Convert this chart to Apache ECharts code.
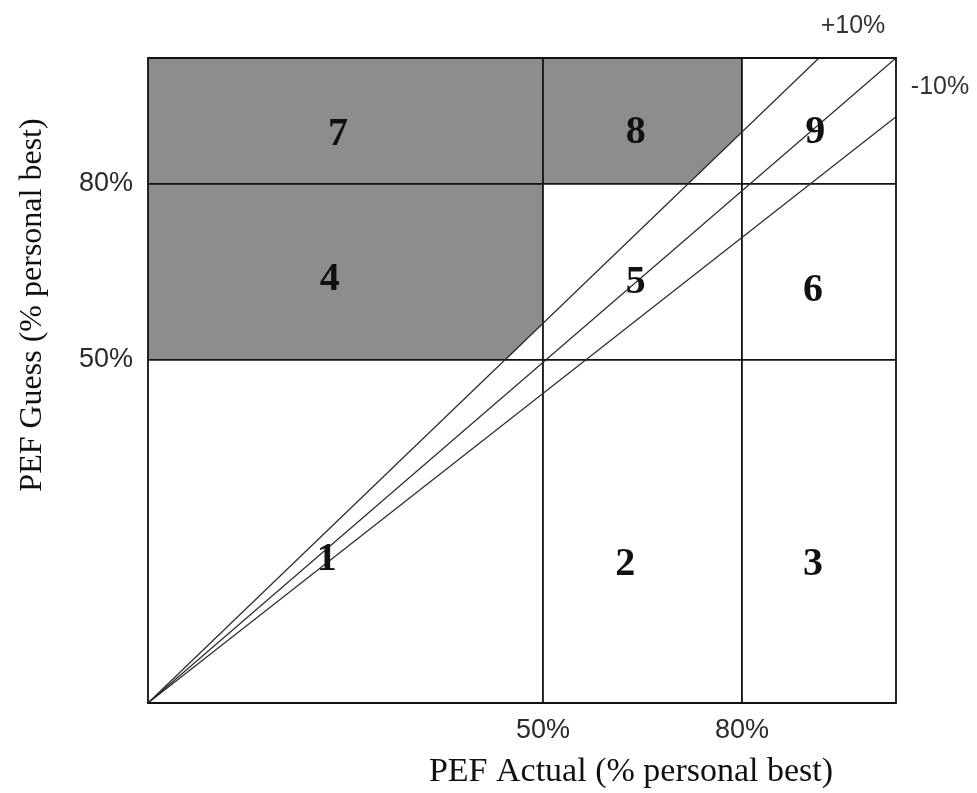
<!DOCTYPE html>
<html>
<head>
<meta charset="utf-8">
<script src="https://cdn.jsdelivr.net/npm/echarts@6/dist/echarts.min.js"></script>
<style>
html,body{margin:0;padding:0;background:#fff;}
#chart{width:977px;height:793px;}
</style>
</head>
<body>
<div id="chart"></div>
<script>
// Schematic axis units (0..100 across the plot); region boundaries as drawn
const xBoundaries = [52.8, 79.4];
const yBoundaries = [53.2, 80.5];
const xTickLabels = ['50%', '80%'];
const yTickLabels = ['50%', '80%'];

// Region numbers and their label anchor points
const regionNames = ['1', '2', '3', '4', '5', '6', '7', '8', '9'];
const regionX = [23.9, 63.8, 88.9, 24.3, 65.2, 88.9, 25.4, 65.2, 89.2];
const regionY = [22.2, 21.4, 21.4, 65.6, 65.1, 64.0, 88.1, 88.4, 88.4];

// Shaded areas (cut by the +10% line)
const shadedA = [[0, 53.2], [47.9, 53.2], [52.8, 58.8], [52.8, 100], [0, 100]];
const shadedB = [[52.8, 80.5], [72.3, 80.5], [79.4, 88.5], [79.4, 100], [52.8, 100]];

// Diagonal reference lines
const plus10Line = [[0, 0], [89.7, 100]];
const identityLine = [[0, 0], [100, 100]];
const minus10Line = [[0, 0], [100, 90.9]];
const diagNames = ['+10%', '', '-10%'];

const chart = echarts.init(document.getElementById('chart'));

function nearestLabel(vals, labels, v) {
  let bi = 0, bd = Infinity;
  vals.forEach((x, i) => { const d = Math.abs(x - v); if (d < bd) { bd = d; bi = i; } });
  return bd < 0.5 ? labels[bi] : '';
}

const polySeries = [shadedA, shadedB].map(poly => ({
  type: 'custom',
  silent: true,
  z: 1,
  data: [0],
  renderItem: (params, api) => ({
    type: 'polygon',
    shape: { points: poly.map(p => api.coord(p)) },
    style: { fill: '#8d8d8d', stroke: null }
  })
}));

const boundarySeries = [];
xBoundaries.forEach(v => boundarySeries.push({
  type: 'line', data: [[v, 0], [v, 100]], symbol: 'none', silent: true, z: 3,
  lineStyle: { color: '#111', width: 1.8 }
}));
yBoundaries.forEach(v => boundarySeries.push({
  type: 'line', data: [[0, v], [100, v]], symbol: 'none', silent: true, z: 3,
  lineStyle: { color: '#111', width: 1.8 }
}));

const diagSeries = [plus10Line, identityLine, minus10Line].map((d, i) => ({
  type: 'line', data: d, symbol: 'none', silent: true, z: 4,
  lineStyle: { color: '#2a2a2a', width: 1.2 },
  endLabel: diagNames[i] ? {
    show: true,
    formatter: diagNames[i],
    distance: 0,
    align: 'center',
    verticalAlign: 'middle',
    offset: i === 0 ? [34, -32] : [44, -30],
    fontFamily: 'Liberation Sans',
    fontSize: 25,
    color: '#333'
  } : { show: false }
}));

const labelSeries = {
  type: 'custom', silent: true, z: 6,
  data: regionNames.map((n, i) => [regionX[i], regionY[i], n]),
  renderItem: (params, api) => {
    const pt = api.coord([api.value(0), api.value(1)]);
    return {
      type: 'text', x: pt[0], y: pt[1],
      style: {
        text: regionNames[params.dataIndex],
        font: 'bold 40px "Liberation Serif"',
        fill: '#111', align: 'center', verticalAlign: 'middle'
      }
    };
  }
};

chart.setOption({
  animation: false,
  backgroundColor: '#fff',
  grid: {
    left: 148, right: 81, top: 58, bottom: 90,
    show: true, z: 10, backgroundColor: 'transparent',
    borderColor: '#111', borderWidth: 1.8
  },
  xAxis: {
    type: 'value', min: 0, max: 100,
    axisLine: { show: false }, axisTick: { show: false }, splitLine: { show: false },
    axisLabel: {
      customValues: xBoundaries,
      formatter: v => nearestLabel(xBoundaries, xTickLabels, v),
      margin: 14, fontFamily: 'Liberation Sans', fontSize: 27, color: '#2a2a2a'
    }
  },
  yAxis: {
    type: 'value', min: 0, max: 100,
    axisLine: { show: false }, axisTick: { show: false }, splitLine: { show: false },
    axisLabel: {
      customValues: yBoundaries,
      formatter: v => nearestLabel(yBoundaries, yTickLabels, v),
      margin: 15, fontFamily: 'Liberation Sans', fontSize: 27, color: '#2a2a2a',
      padding: [0, 0, 18, 0]
    }
  },
  graphic: [
    {
      type: 'text', x: 631, y: 772,
      style: {
        text: 'PEF Actual (% personal best)',
        font: '34px "Liberation Serif"', fill: '#111',
        align: 'center', verticalAlign: 'middle'
      }
    },
    {
      type: 'text', x: 33, y: 305, rotation: Math.PI / 2,
      style: {
        text: 'PEF Guess (% personal best)',
        font: '32px "Liberation Serif"', fill: '#111',
        align: 'center', verticalAlign: 'middle'
      }
    }
  ],
  series: [].concat(polySeries, boundarySeries, diagSeries, [labelSeries])
});
</script>
</body>
</html>
